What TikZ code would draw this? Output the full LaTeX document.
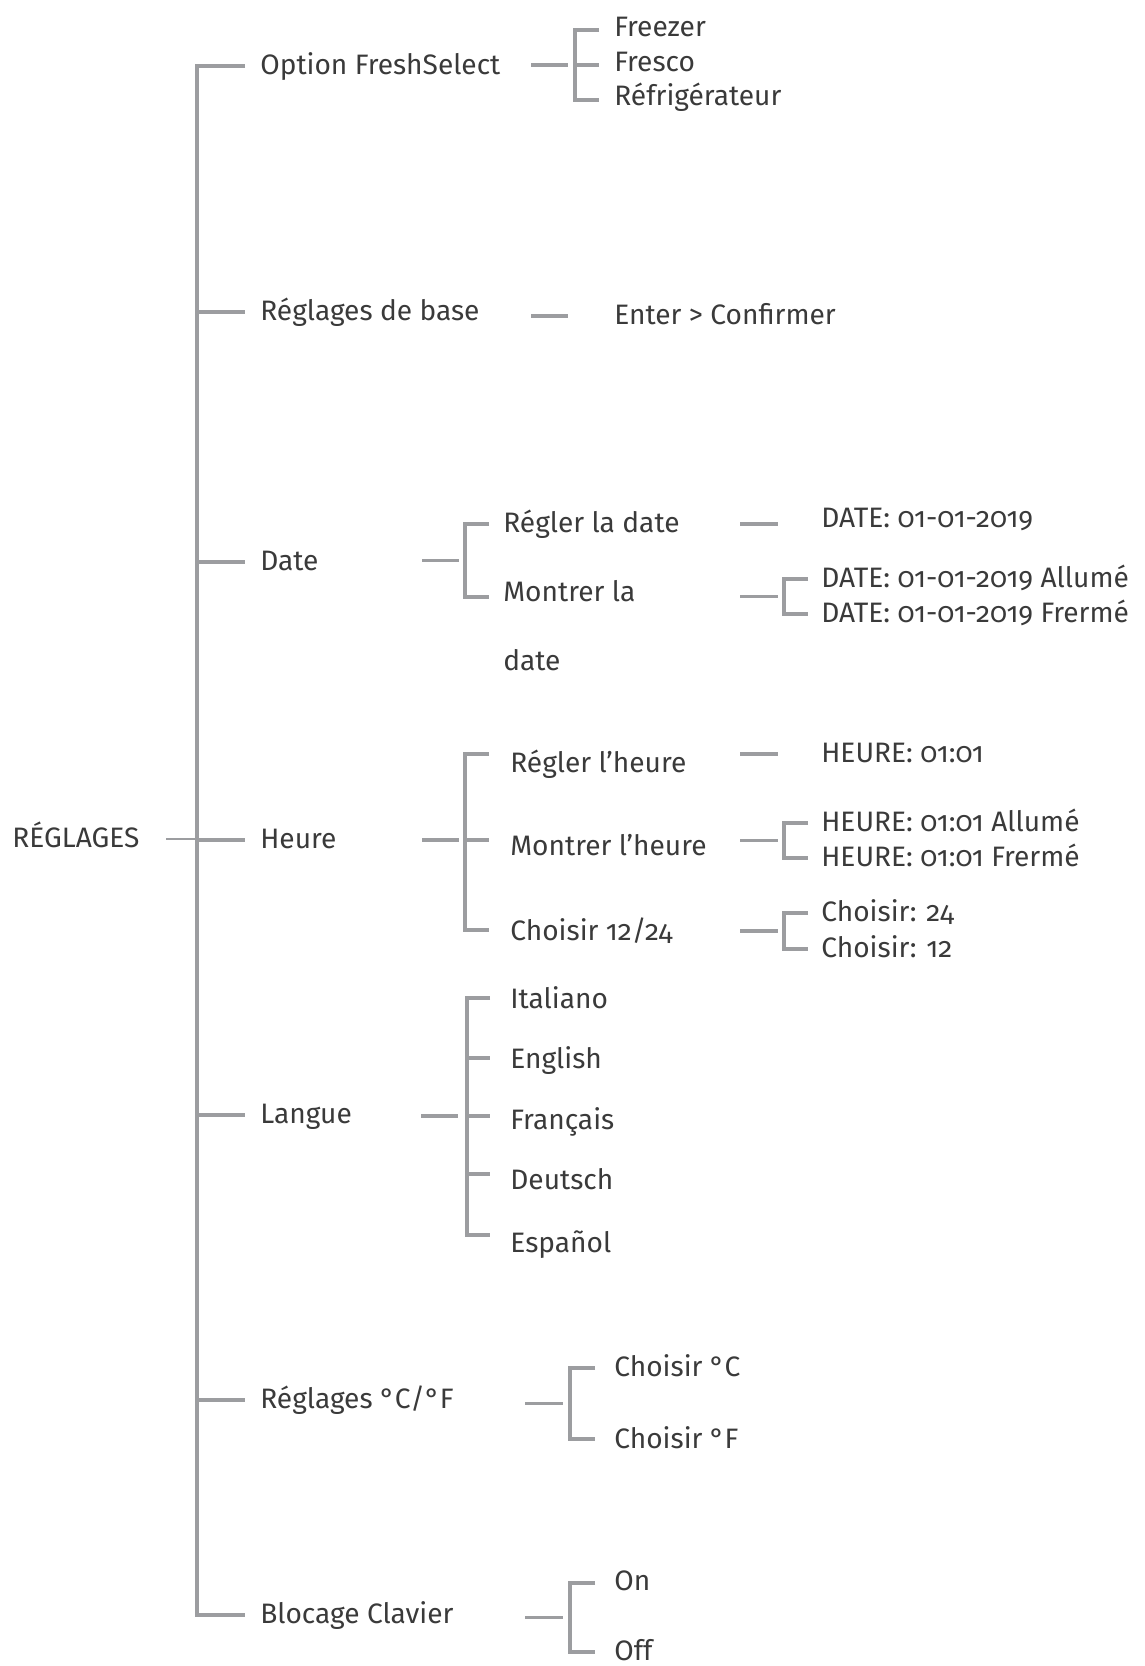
\documentclass[tikz,border=0pt]{standalone}
\usepackage{fontspec}
\setmainfont{Fira Sans}[Numbers=OldStyle]
\usetikzlibrary{calc}
\definecolor{linegray}{HTML}{9C9DA0}
\definecolor{textgray}{HTML}{3A3A3A}

\begin{document}
\begin{tikzpicture}[x=0.02cm,y=-0.02cm,
  lbl/.style={anchor=west,inner sep=0pt,text height=10pt,text depth=0pt,text=textgray,font=\fontsize{16}{19}\selectfont},
  ln/.style={draw=linegray,line width=1.8pt},
  thinln/.style={draw=linegray,line width=1.1pt}]
\useasboundingbox (0,0) rectangle (1144,1666);

% root and trunk
\node[lbl] (root) at (12,839) {RÉGLAGES};
\coordinate (trunk) at (197,839);
\node[lbl] (opt) at (260,66) {Option FreshSelect};
\node[lbl] (base) at (260,312) {Réglages de base};
\node[lbl] (date) at (260,562) {Date};
\node[lbl] (heure) at (260,840) {Heure};
\node[lbl] (langue) at (260,1115) {Langue};
\node[lbl] (unit) at (260,1400) {Réglages °C/°F};
\node[lbl] (clavier) at (260,1615) {Blocage Clavier};
\draw[thinln] ([xshift=-0.62cm]trunk) -- (trunk);
\draw[ln] ([xshift=-0.3cm]opt.west) -- (opt.west -| trunk) -- (clavier.west -| trunk) -- ([xshift=-0.3cm]clavier.west);
\draw[ln] (base.west -| trunk) -- ([xshift=-0.3cm]base.west);
\draw[ln] (date.west -| trunk) -- ([xshift=-0.3cm]date.west);
\draw[ln] (heure.west -| trunk) -- ([xshift=-0.3cm]heure.west);
\draw[ln] (langue.west -| trunk) -- ([xshift=-0.3cm]langue.west);
\draw[ln] (unit.west -| trunk) -- ([xshift=-0.3cm]unit.west);

% Option FreshSelect
\node[lbl] (freezer) at (614,28) {Freezer};
\node[lbl] (fresco) at (614,63) {Fresco};
\node[lbl] (frigo) at (614,97) {Réfrigérateur};
\coordinate (fs1) at (575,30);
\coordinate (fs2) at (575,65);
\coordinate (fs3) at (575,100);
\draw[ln] ([xshift=-0.88cm]fs2) -- ([xshift=-0.14cm]fs2);
\draw[ln] ([xshift=0.48cm]fs1) -- (fs1) -- (fs3) -- ([xshift=0.48cm]fs3);
\draw[ln] (fs2) -- ++(24,0);

% Reglages de base
\node[lbl] (enter) at (614,316) {Enter > Confirmer};
\coordinate (bs) at (575,316);
\draw[ln] ([xshift=-0.88cm]bs) -- ([xshift=-0.14cm]bs);

% Date
\node[lbl] (rdate) at (503,524) {Régler la date};
\node[lbl] (mdate) at (503,593) {Montrer la};
\node[lbl] (mdateb) at (503,662) {date};
\coordinate (dt1) at (465,524);
\coordinate (dt2) at (465,597);
\draw[ln] ([xshift=-0.86cm]$(dt1)!0.5!(dt2)$) -- ([xshift=-0.12cm]$(dt1)!0.5!(dt2)$);
\draw[ln] ([xshift=0.48cm]dt1) -- (dt1) -- (dt2) -- ([xshift=0.48cm]dt2);

\node[lbl] (dval) at (821,519) {DATE: 01-01-2019};
\coordinate (dv) at (784,524);
\draw[ln] ([xshift=-0.88cm]dv) -- ([xshift=-0.12cm]dv);

\node[lbl] (don) at (821,579) {DATE: 01-01-2019 Allumé};
\node[lbl] (doff) at (821,614) {DATE: 01-01-2019 Frermé};
\coordinate (dm1) at (784,579);
\coordinate (dm2) at (784,614);
\draw[ln] ([xshift=-0.88cm]$(dm1)!0.5!(dm2)$) -- ([xshift=-0.12cm]$(dm1)!0.5!(dm2)$);
\draw[ln] ([xshift=0.48cm]dm1) -- (dm1) -- (dm2) -- ([xshift=0.48cm]dm2);

% Heure
\node[lbl] (rheure) at (510,764) {Régler l’heure};
\node[lbl] (mheure) at (510,847) {Montrer l’heure};
\node[lbl] (format) at (510,932) {Choisir 12/24};
\coordinate (hr1) at (465,754);
\coordinate (hr2) at (465,840);
\coordinate (hr3) at (465,930);
\draw[ln] ([xshift=-0.86cm]hr2) -- ([xshift=-0.12cm]hr2);
\draw[ln] ([xshift=0.48cm]hr1) -- (hr1) -- (hr3) -- ([xshift=0.48cm]hr3);
\draw[ln] (hr2) -- ++(24,0);

\node[lbl] (hval) at (821,754) {HEURE: 01:01};
\coordinate (hv) at (784,754);
\draw[ln] ([xshift=-0.88cm]hv) -- ([xshift=-0.12cm]hv);

\node[lbl] (hon) at (821,823) {HEURE: 01:01 Allumé};
\node[lbl] (hoff) at (821,858) {HEURE: 01:01 Frermé};
\coordinate (hm1) at (784,823);
\coordinate (hm2) at (784,858);
\draw[ln] ([xshift=-0.88cm]$(hm1)!0.5!(hm2)$) -- ([xshift=-0.12cm]$(hm1)!0.5!(hm2)$);
\draw[ln] ([xshift=0.48cm]hm1) -- (hm1) -- (hm2) -- ([xshift=0.48cm]hm2);

\node[lbl] (c24) at (821,913) {Choisir: 24};
\node[lbl] (c12) at (821,949) {Choisir: 12};
\coordinate (hf1) at (784,913);
\coordinate (hf2) at (784,949);
\draw[ln] ([xshift=-0.88cm]$(hf1)!0.5!(hf2)$) -- ([xshift=-0.12cm]$(hf1)!0.5!(hf2)$);
\draw[ln] ([xshift=0.48cm]hf1) -- (hf1) -- (hf2) -- ([xshift=0.48cm]hf2);

% Langue
\node[lbl] (ita) at (510,1000) {Italiano};
\node[lbl] (eng) at (510,1060) {English};
\node[lbl] (fra) at (510,1121) {Français};
\node[lbl] (deu) at (510,1181) {Deutsch};
\node[lbl] (esp) at (510,1244) {Español};
\coordinate (lg1) at (467,998);
\coordinate (lg2) at (467,1058);
\coordinate (lg3) at (467,1116);
\coordinate (lg4) at (467,1174);
\coordinate (lg5) at (467,1235);
\draw[ln] ([xshift=-0.92cm]lg3) -- ([xshift=-0.18cm]lg3);
\draw[ln] ([xshift=0.46cm]lg1) -- (lg1) -- (lg5) -- ([xshift=0.46cm]lg5);
\draw[ln] (lg2) -- ++(23,0);
\draw[ln] (lg3) -- ++(23,0);
\draw[ln] (lg4) -- ++(23,0);

% Reglages C/F
\node[lbl] (degc) at (614,1368) {Choisir °C};
\node[lbl] (degf) at (614,1440) {Choisir °F};
\coordinate (cf1) at (570,1368);
\coordinate (cf2) at (570,1439);
\draw[ln] ([xshift=-0.9cm]$(cf1)!0.5!(cf2)$) -- ([xshift=-0.14cm]$(cf1)!0.5!(cf2)$);
\draw[ln] ([xshift=0.5cm]cf1) -- (cf1) -- (cf2) -- ([xshift=0.5cm]cf2);

% Blocage Clavier
\node[lbl] (on) at (614,1582) {On};
\node[lbl] (off) at (614,1652) {Off};
\coordinate (bc1) at (570,1583);
\coordinate (bc2) at (570,1652);
\draw[ln] ([xshift=-0.9cm]$(bc1)!0.5!(bc2)$) -- ([xshift=-0.14cm]$(bc1)!0.5!(bc2)$);
\draw[ln] ([xshift=0.5cm]bc1) -- (bc1) -- (bc2) -- ([xshift=0.5cm]bc2);
\end{tikzpicture}
\end{document}
